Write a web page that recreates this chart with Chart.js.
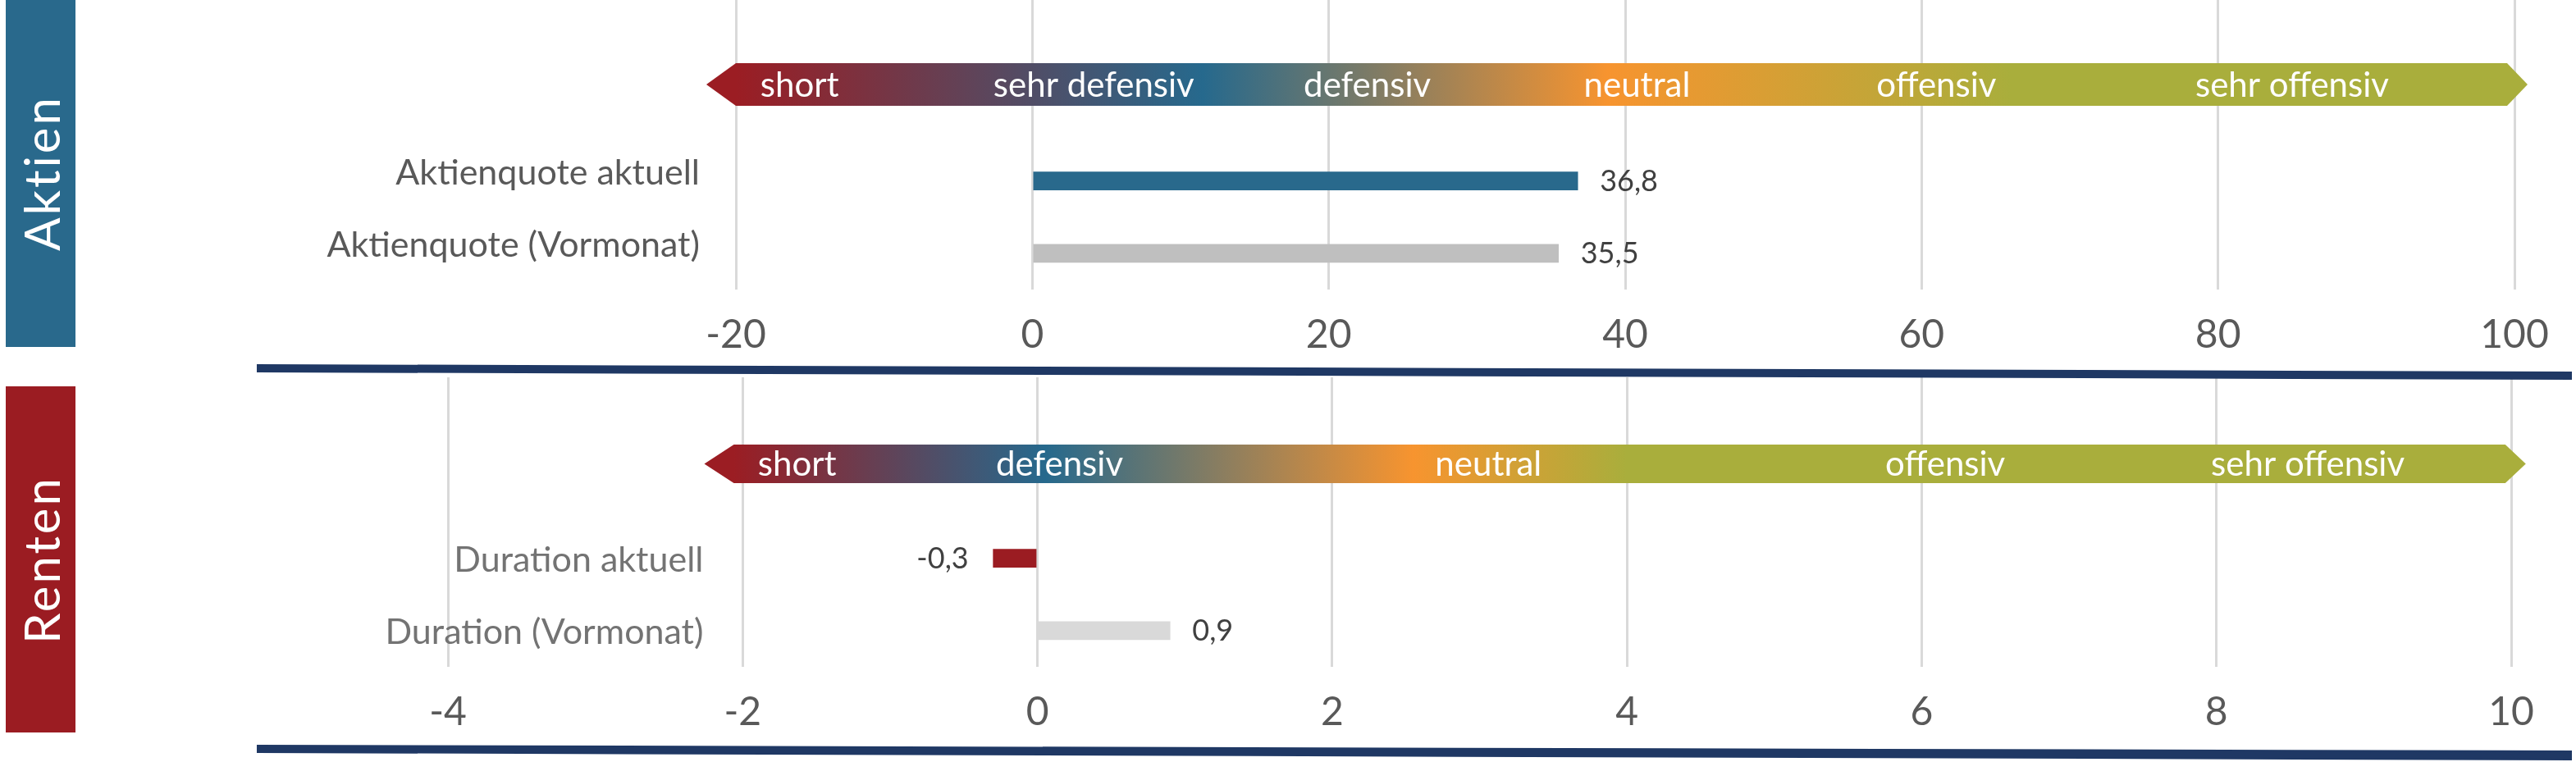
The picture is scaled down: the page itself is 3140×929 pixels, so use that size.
<!DOCTYPE html>
<html>
<head>
<meta charset="utf-8">
<script src="https://cdn.jsdelivr.net/npm/chart.js@4.4.1/dist/chart.umd.min.js"></script>
<style>
  html, body { margin:0; padding:0; background:#fff; }
  body { position:relative; width:3140px; height:929px; overflow:hidden; font-family:Lato, sans-serif; }
  .side { position:absolute; left:7px; width:85px; display:flex; align-items:center; justify-content:center; }
  .side span { writing-mode:vertical-rl; transform:rotate(180deg); color:#fff; font:60px Lato, sans-serif; letter-spacing:3px; }
  .wrap { position:absolute; left:0; width:3140px; height:440px; }
  svg { position:absolute; left:0; top:0; }
</style>
</head>
<body>
<div class="side" style="top:0;height:423px;background:#29698C"><span>Aktien</span></div>
<div class="side" style="top:471px;height:422px;background:#9B1C22"><span>Renten</span></div>
<div class="wrap" style="top:0"><canvas id="aktien" width="3140" height="440"></canvas></div>
<div class="wrap" style="top:460px"><canvas id="renten" width="3140" height="440"></canvas></div>
<svg width="3140" height="929">
  <polygon points="313,444 3135,453 3135,463 313,454" fill="#1F3864"/>
  <polygon points="313,908 3135,915 3135,927 313,918" fill="#1F3864"/>
</svg>
<script>
// Aktien
const aktienLabels = ['Aktienquote aktuell', 'Aktienquote (Vormonat)'];
const aktienValues = [36.8, 35.5];
const aktienAxis = [-20, 100, 20];           // min, max, step
const aktienZones = ['short', 'sehr defensiv', 'defensiv', 'neutral', 'offensiv', 'sehr offensiv'];
const aktienZoneAt = [-15.7, 4.15, 22.6, 40.8, 61, 85];
const aktienBand = [-20, 99.5];
const aktienGradAt = [-20, 11.5, 38.8, 66];

// Renten
const rentenLabels = ['Duration aktuell', 'Duration (Vormonat)'];
const rentenValues = [-0.3, 0.9];
const rentenAxis = [-4, 10, 2];
const rentenZones = ['short', 'defensiv', 'neutral', 'offensiv', 'sehr offensiv'];
const rentenZoneAt = [-1.63, 0.15, 3.06, 6.16, 8.62];
const rentenBand = [-2.06, 9.96];
const rentenGradAt = [-2.06, 0.05, 2.55, 4.0];

const gradColors = ['#9B1D23', '#26698D', '#F7942F', '#A9AE3C'];
const fmt = v => v.toFixed(1).replace('.', ',');

// gradient arrow + zone names, category labels, value labels
const bandPlugin = {
  id: 'band',
  beforeDatasetsDraw(chart, args, o) {
    const ctx = chart.ctx, x = chart.scales.x;
    const x0 = x.getPixelForValue(o.band[0]), x1 = x.getPixelForValue(o.band[1]);
    const t = chart.chartArea.top + o.bandTop, b = chart.chartArea.top + 129, m = (t + b) / 2;
    const tl = x0 - 36, tr = x1 + 25;
    const g = ctx.createLinearGradient(tl, 0, tr, 0);
    o.gradAt.forEach((v, i) => {
      const f = Math.min(1, Math.max(0, (x.getPixelForValue(v) - tl) / (tr - tl)));
      g.addColorStop(f, gradColors[i]);
    });
    g.addColorStop(1, gradColors[gradColors.length - 1]);
    ctx.save();
    ctx.fillStyle = g;
    ctx.beginPath();
    ctx.moveTo(tl, m); ctx.lineTo(x0, t); ctx.lineTo(x1, t); ctx.lineTo(tr, m);
    ctx.lineTo(x1, b); ctx.lineTo(x0, b); ctx.closePath(); ctx.fill();
    ctx.fillStyle = '#fff';
    ctx.font = '42px Lato';
    ctx.textAlign = 'center'; ctx.textBaseline = 'middle';
    o.zones.forEach((z, i) => ctx.fillText(z, x.getPixelForValue(o.zoneAt[i]), m + 1));
    ctx.restore();
  },
  afterDatasetsDraw(chart, args, o) {
    const ctx = chart.ctx, x = chart.scales.x, y = chart.scales.y;
    const meta = chart.getDatasetMeta(0);
    const vals = chart.data.datasets[0].data;
    ctx.save();
    ctx.textBaseline = 'middle';
    // category names
    ctx.font = '43px Lato';
    ctx.fillStyle = o.labelColor;
    ctx.textAlign = 'right';
    chart.data.labels.forEach((l, i) => {
      if (l) ctx.fillText(l, x.getPixelForValue(o.band[0]) - o.labelGap, y.getPixelForValue(i) + o.labelShift);
    });
    // values
    ctx.font = '36px Lato';
    ctx.fillStyle = '#404040';
    meta.data.forEach((bar, i) => {
      const v = vals[i];
      if (v === null) return;
      if (v >= 0) { ctx.textAlign = 'left'; ctx.fillText(fmt(v), bar.x + 27, bar.y + 1); }
      else { ctx.textAlign = 'right'; ctx.fillText(fmt(v), bar.x - 30, bar.y + 1); }
    });
    ctx.restore();
  }
};

function makeChart(id, labels, values, colors, axis, opts) {
  return new Chart(document.getElementById(id), {
    type: 'bar',
    data: {
      labels: ['', ''].concat(labels),
      datasets: [{
        data: [null, null].concat(values),
        backgroundColor: ['rgba(0,0,0,0)', 'rgba(0,0,0,0)'].concat(colors),
        barThickness: 22
      }]
    },
    options: {
      indexAxis: 'y',
      responsive: false,
      animation: false,
      devicePixelRatio: 1,
      layout: { padding: { left: opts.left, right: opts.right, top: 0, bottom: 0 } },
      plugins: {
        legend: { display: false },
        tooltip: { enabled: false },
        band: opts
      },
      scales: {
        x: {
          min: axis[0], max: axis[1],
          ticks: { stepSize: axis[2], padding: 27, color: '#595959', font: { family: 'Lato', size: 48 }, callback: v => String(v) },
          grid: { color: '#D9D9D9', lineWidth: 3, drawTicks: false },
          border: { display: false },
          afterFit: s => { s.height = 87; }
        },
        y: { display: false }
      }
    },
    plugins: [bandPlugin]
  });
}

makeChart('aktien', aktienLabels, aktienValues, ['#29698C', '#BFBFBF'], aktienAxis, {
  left: 897, right: 75, band: aktienBand, bandTop: 77, zones: aktienZones, zoneAt: aktienZoneAt,
  gradAt: aktienGradAt, labelGap: 44, labelShift: -10, labelColor: '#595959'
});
makeChart('renten', rentenLabels, rentenValues, ['#9B1C22', '#D9D9D9'], rentenAxis, {
  left: 546, right: 79, band: rentenBand, bandTop: 82, zones: rentenZones, zoneAt: rentenZoneAt,
  gradAt: rentenGradAt, labelGap: 37, labelShift: 2, labelColor: '#737373'
});
</script>
</body>
</html>
